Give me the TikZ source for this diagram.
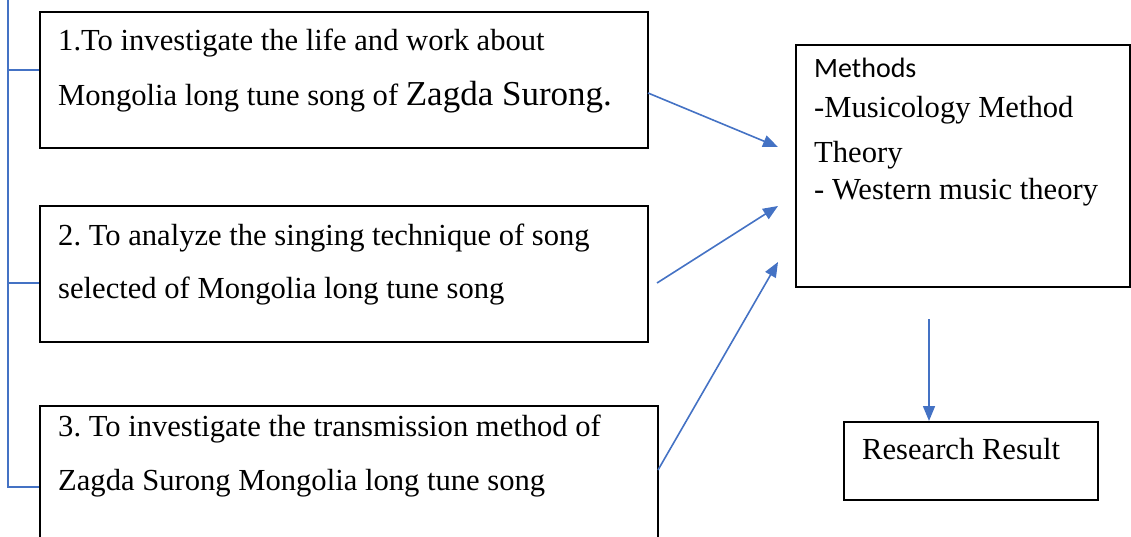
\documentclass[tikz,border=0pt]{standalone}
\usepackage{fontspec}
\setmainfont{Liberation Serif}
\newfontfamily\calib{Carlito}
\usetikzlibrary{arrows.meta}
\definecolor{officeblue}{HTML}{4472C4}
\frenchspacing
\tikzset{
  box/.style={draw=black, line width=1.7pt, rectangle, anchor=north west, inner sep=0pt},
  txt/.style={anchor=base west, inner sep=0pt, font=\fontsize{30.6}{36}\selectfont},
  ctxt/.style={anchor=base west, inner sep=0pt, font=\calib\fontsize{28}{34}\selectfont},
  conn/.style={draw=officeblue, line width=1.6pt},
  arr/.style={conn, -{Triangle[length=15pt,width=12pt]}}
}
\begin{document}
\begin{tikzpicture}[x=1pt,y=-1pt]
\useasboundingbox (0,0) rectangle (1131,537);
\clip (0,0) rectangle (1131,537);
% boxes
\node[box, minimum width=608pt, minimum height=136pt] (b1) at (39,11) {};
\node[box, minimum width=608pt, minimum height=136pt] (b2) at (39,205) {};
\node[box, minimum width=618pt, minimum height=160pt] (b3) at (39,405) {};
\node[box, minimum width=334pt, minimum height=242pt] (m) at (795,44) {};
\node[box, minimum width=254pt, minimum height=78pt] (r) at (843,421) {};
% texts
\node[txt] (t1a) at (58,51) {1.To investigate the life and work about};
\node[txt] (t1b) at (58,106) {Mongolia long tune song of {\fontsize{35}{40}\selectfont Zagda Surong.}};
\node[txt] (t2a) at (58,245) {2. To analyze the singing technique of song};
\node[txt] (t2b) at (58,298) {selected of Mongolia long tune song};
\node[txt] (t3a) at (58,436) {3. To investigate the transmission method of};
\node[txt] (t3b) at (58,490) {Zagda Surong Mongolia long tune song};
\node[ctxt] (mt) at (814,78) {Methods};
\node[txt] (m1) at (814,118) {-Musicology Method};
\node[txt] (m2) at (814,163) {Theory};
\node[txt] (m3) at (814,200) {- Western music theory};
\node[txt] (rt) at (862,459) {Research Result};
% left bracket
\coordinate (top) at (8,0);
\coordinate (k1) at (8,70);
\coordinate (k2) at (8,283);
\coordinate (k3) at (8,487);
\draw[conn] (top) -- (k3) -- (k3 -| b3.west);
\draw[conn] (k1) -- (k1 -| b1.west);
\draw[conn] (k2) -- (k2 -| b2.west);
% arrows to methods
\coordinate (s1) at (648,93);
\coordinate (e1) at (778,147);
\coordinate (s2) at (657,283);
\coordinate (e2) at (778,206);
\coordinate (s3) at (658,470);
\coordinate (e3) at (778,262);
\draw[arr] (s1) -- (e1);
\draw[arr] (s2) -- (e2);
\draw[arr] (s3) -- (e3);
% arrow down
\coordinate (d0) at (929,319);
\draw[arr] (d0) -- (d0 |- r.north);
\end{tikzpicture}
\end{document}
